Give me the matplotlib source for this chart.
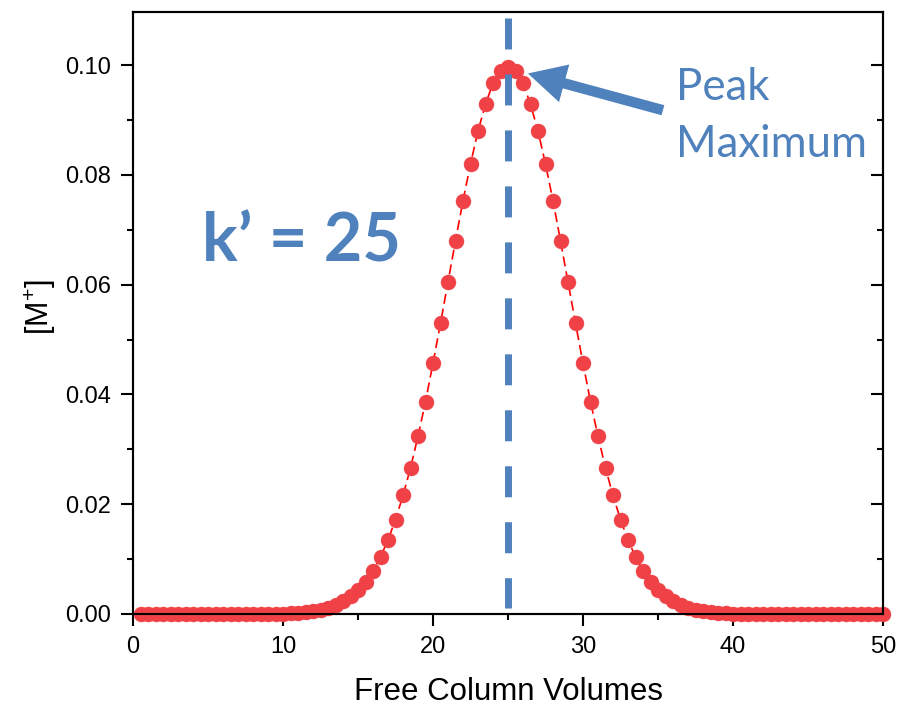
import matplotlib
matplotlib.use("Agg")
import matplotlib.pyplot as plt
from matplotlib.ticker import MultipleLocator, FormatStrFormatter
from matplotlib.patches import FancyArrowPatch

# ---- data ----
x_values = [0.5 * i for i in range(1, 101)]
y_left_zeros = [0.0] * 15
y_rise = [0.00001, 0.00002, 0.00003, 0.00005, 0.00009, 0.00014, 0.00022, 0.00034,
          0.00051, 0.00075, 0.0011, 0.0016, 0.0023, 0.0032, 0.0044, 0.0059,
          0.0079, 0.0104, 0.0135, 0.0172, 0.0216, 0.0266, 0.0324, 0.0387,
          0.0457, 0.0530, 0.0605, 0.0680, 0.0753, 0.0820, 0.0880, 0.0929,
          0.0967, 0.0989]
y_peak = [0.0997]
y_fall = [0.0989, 0.0967, 0.0929, 0.0880, 0.0820, 0.0753, 0.0680, 0.0605,
          0.0530, 0.0457, 0.0387, 0.0324, 0.0266, 0.0216, 0.0172, 0.0135,
          0.0104, 0.0079, 0.0059, 0.0044, 0.0032, 0.0023, 0.0016, 0.0011,
          0.00075, 0.00051, 0.00034, 0.00022, 0.00014, 0.00009, 0.00005,
          0.00003, 0.00002, 0.00001]
y_right_zeros = [0.0] * 16
y_values = y_left_zeros + y_rise + y_peak + y_fall + y_right_zeros

k_prime = 25
k_line_bottom = 0.0011
k_line_top = 0.1086
xlabel_text = "Free Column Volumes"
ylabel_text = r"[M$^{\mathregular{+}}$]"
k_text = "k\u2019 = 25"
peak_text_1 = "Peak"
peak_text_2 = "Maximum"
x_ticks = [0, 10, 20, 30, 40, 50]
y_ticks = [0.00, 0.02, 0.04, 0.06, 0.08, 0.10]

BLUE = "#4F81BD"
RED_MARK = "#EF4146"

plt.rcParams["font.family"] = ["Liberation Sans", "DejaVu Sans"]
plt.rcParams["mathtext.fontset"] = "custom"
plt.rcParams["mathtext.rm"] = "Liberation Sans"

fig = plt.figure(figsize=(9.02, 7.07), dpi=100)
ax = fig.add_axes([133 / 902, 1 - 614 / 707, 750 / 902, 602 / 707])

ax.plot(x_values, y_values, color="red", lw=1.2, dashes=(6, 3), zorder=2, clip_on=False)
ax.plot(x_values, y_values, linestyle="none", marker="o", ms=10.8, color=RED_MARK,
        mec=RED_MARK, mew=0.3, zorder=3, clip_on=False)

# vertical k' line (drawn top -> bottom so the dash pattern starts at the top)
ax.plot([k_prime, k_prime], [k_line_top, k_line_bottom], color=BLUE, lw=5,
        dashes=(22.3 / 5, 18 / 5), solid_capstyle="butt", dash_capstyle="butt",
        zorder=4, clip_on=False)

ax.set_xlim(0, 50)
ax.set_ylim(0, 0.1097)
ax.set_xticks(x_ticks)
ax.set_yticks(y_ticks)
ax.xaxis.set_minor_locator(MultipleLocator(5))
ax.yaxis.set_minor_locator(MultipleLocator(0.01))
ax.yaxis.set_major_formatter(FormatStrFormatter("%.2f"))

for s in ax.spines.values():
    s.set_linewidth(1.5)

ax.tick_params(axis="both", which="major", direction="out", length=8.5, width=1.5,
               labelsize=17, top=False, right=False)
ax.tick_params(axis="y", which="major", pad=7.5)
ax.tick_params(axis="x", which="major", pad=7)
ax.tick_params(axis="both", which="minor", direction="out", length=4.5, width=1.5,
               top=False, right=False)

# right axis with inward ticks
axr = ax.twinx()
axr.set_ylim(ax.get_ylim())
axr.set_yticks(y_ticks)
axr.yaxis.set_minor_locator(MultipleLocator(0.01))
axr.tick_params(axis="y", which="major", direction="in", length=8.5, width=1.5, labelright=False)
axr.tick_params(axis="y", which="minor", direction="in", length=4.5, width=1.5)
for s in axr.spines.values():
    s.set_linewidth(1.5)

ax.set_xlabel(xlabel_text, fontsize=22.5)
ax.xaxis.set_label_coords(0.5, -0.105)
ax.xaxis.label.set_va("top")
ax.set_ylabel(ylabel_text, fontsize=22)
ax.yaxis.set_label_coords(-0.100, 0.51)

ax.text(4.6, 0.0643, k_text, fontsize=48, fontweight="bold", color=BLUE,
        family=["Lato", "DejaVu Sans"], va="baseline", ha="left")
ax.text(36.2, 0.0936, peak_text_1, fontsize=31.5, color=BLUE,
        family=["Lato", "DejaVu Sans"], va="baseline", ha="left")
ax.text(36.2, 0.0832, peak_text_2, fontsize=31.5, color=BLUE,
        family=["Lato", "DejaVu Sans"], va="baseline", ha="left")

arrow = FancyArrowPatch((35.33, 0.0918), (26.33, 0.0985),
                        arrowstyle="simple,head_length=2.7,head_width=2.8,tail_width=0.75",
                        mutation_scale=10, color=BLUE, lw=0, shrinkA=0, shrinkB=0, zorder=5)
ax.add_patch(arrow)

fig.savefig("out.png", dpi=100)
